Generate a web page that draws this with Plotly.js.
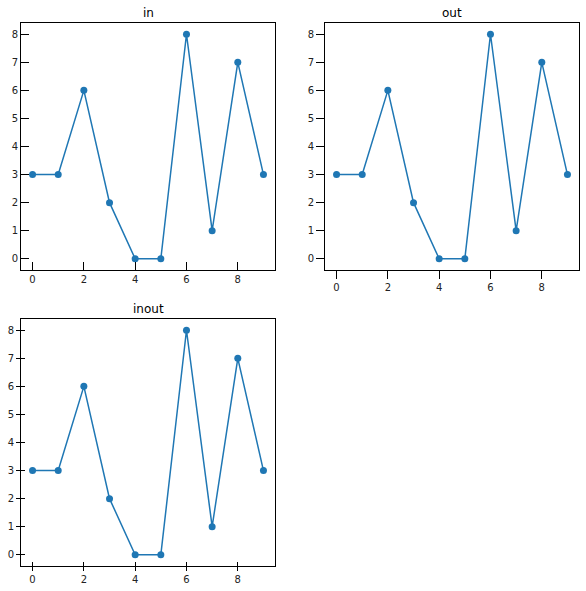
<!DOCTYPE html>
<html><head><meta charset="utf-8">
<script src="https://cdn.plot.ly/plotly-3.0.1.min.js"></script>
<style>html,body{margin:0;padding:0;background:#fff}</style>
</head><body>
<div id="plot" style="width:586px;height:591px"></div>
<script>
const xValues = [0, 1, 2, 3, 4, 5, 6, 7, 8, 9];
const yValues = [3, 3, 6, 2, 0, 0, 8, 1, 7, 3];
const panelTitles = ["in", "out", "inout"];
const xTicks = [0, 2, 4, 6, 8];
const yTicks = [0, 1, 2, 3, 4, 5, 6, 7, 8];

const color = '#1f77b4';
function tr(xa, ya, hidden) {
  return {x: xValues, y: yValues, xaxis: xa, yaxis: ya, type: 'scatter',
    mode: hidden ? 'markers' : 'lines+markers',
    line: {color: color, width: 1.5},
    marker: {color: color, size: 7, opacity: hidden ? 0 : 1},
    hoverinfo: hidden ? 'skip' : 'x+y', showlegend: false};
}
const data = [tr('x','y'), tr('x2','y2'), tr('x3','y3'), tr('x4','y4', true)];

const font = {family: 'DejaVu Sans', size: 10, color: '#222'};
function ax(domain, anchor, ticks, len, range, vals, extra) {
  return Object.assign({domain: domain, anchor: anchor, range: range,
    tickmode: 'array', tickvals: vals, ticks: ticks, ticklen: len, tickwidth: 1,
    tickcolor: '#000', showline: true, linecolor: '#000', linewidth: 1,
    mirror: true, showgrid: false, zeroline: false, tickfont: font,
    fixedrange: true}, extra || {});
}
const xr = [-0.45, 9.45], yr = [-0.4, 8.4];
const dx1 = [21/586, 275/586], dx2 = [325/586, 579/586];
const dyTop = [1-270/591, 1-23/591], dyBot = [1-566/591, 1-319/591];

const tfont = {family: 'DejaVu Sans', size: 12, color: '#000'};
const layout = {
  width: 586, height: 591, margin: {l:0, r:0, t:0, b:0},
  paper_bgcolor: '#fff', plot_bgcolor: '#fff', showlegend: false,
  xaxis: ax(dx1, 'y', 'inside', 8, xr, xTicks),
  yaxis: ax(dyTop, 'x', 'inside', 8, yr, yTicks),
  xaxis2: ax(dx2, 'y2', 'outside', 8, xr, xTicks),
  yaxis2: ax(dyTop, 'x2', 'outside', 8, yr, yTicks),
  xaxis3: ax(dx1, 'y3', 'outside', 4, xr, xTicks),
  yaxis3: ax(dyBot, 'x3', 'outside', 4, yr, yTicks),
  xaxis4: ax(dx1, 'y4', 'inside', 4, xr, xTicks, {overlaying: 'x3', showticklabels: false, showline: false, mirror: false}),
  yaxis4: ax(dyBot, 'x4', 'inside', 4, yr, yTicks, {overlaying: 'y3', showticklabels: false, showline: false, mirror: false}),
  annotations: [
    {text: panelTitles[0], x: (dx1[0]+dx1[1])/2, y: dyTop[1], xref: 'paper', yref: 'paper', xanchor: 'center', yanchor: 'bottom', yshift: 3, showarrow: false, font: tfont},
    {text: panelTitles[1], x: (dx2[0]+dx2[1])/2, y: dyTop[1], xref: 'paper', yref: 'paper', xanchor: 'center', yanchor: 'bottom', yshift: 3, showarrow: false, font: tfont},
    {text: panelTitles[2], x: (dx1[0]+dx1[1])/2, y: dyBot[1], xref: 'paper', yref: 'paper', xanchor: 'center', yanchor: 'bottom', yshift: 3, showarrow: false, font: tfont}
  ]
};
layout.annotations.forEach(a => { a.yshift = 1; });
Plotly.newPlot('plot', data, layout, {displayModeBar: false, staticPlot: true});
</script>
</body></html>
